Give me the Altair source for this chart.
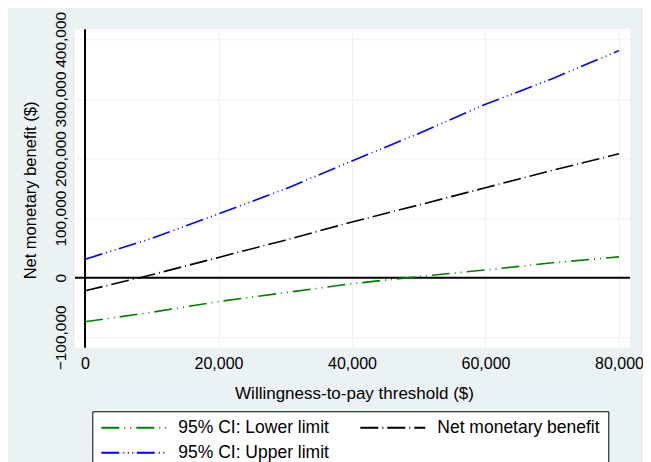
import altair as alt
import pandas as pd

# Willingness-to-pay threshold ($)
wtp = [0, 10000, 20000, 30000, 40000, 50000, 60000, 70000, 80000]
# Series values
lower = [-74000, -58000, -40000, -25000, -10000, 2000, 13000, 25000, 35000]
nmb = [-22000, 5000, 34000, 63000, 93500, 122000, 151000, 180000, 208000]
upper = [31000, 66000, 107000, 149000, 196000, 242000, 291000, 334000, 381000]

series_names = ["95% CI: Lower limit", "Net monetary benefit", "95% CI: Upper limit"]
series_colors = ["#008000", "#000000", "#0000FF"]
series_dashes = [[18, 5, 1, 5, 1, 5], [18, 4, 1, 4], [18, 4, 1, 3.5, 1, 3.5, 1, 3.5]]

x_ticks = [0, 20000, 40000, 60000, 80000]
y_ticks = [-100000, 0, 100000, 200000, 300000, 400000]

rows = []
for name, vals in zip(series_names, [lower, nmb, upper]):
    for xv, yv in zip(wtp, vals):
        rows.append({"wtp": xv, "value": yv, "series": name})
df = pd.DataFrame(rows)

FONT = "Liberation Sans"
XTITLE = "Willingness-to-pay threshold ($)"
YTITLE = "Net monetary benefit ($)"

xscale = alt.Scale(domain=[-1500, 81650], nice=False, zero=False)
yscale = alt.Scale(domain=[-117400, 416800], nice=False, zero=False)

xaxis = alt.Axis(
    values=x_ticks, format=",d", labelFontSize=16, labelFont=FONT, labelColor="black",
    labelPadding=21, labelBaseline="alphabetic", labelFlush=False, labelOverlap=False,
    ticks=False, tickSize=0, domain=False, grid=True, gridColor="#EAF2F3", gridWidth=1,
    titleFontSize=17, titleFont=FONT, titleColor="black", titleFontWeight="normal",
    titleX=279, titleY=50.6, titleBaseline="alphabetic", titleAlign="center",
)
yaxis = alt.Axis(
    values=y_ticks, format=",d", labelFontSize=15.5, labelFont=FONT, labelColor="black",
    labelAngle=270, labelAlign="center", labelBaseline="alphabetic", labelPadding=10,
    labelFlush=False, labelOverlap=False,
    ticks=False, tickSize=0, domain=False, grid=True, gridColor="#EAF2F3", gridWidth=1,
    titleFontSize=16.5, titleFont=FONT, titleColor="black", titleFontWeight="normal",
    titleAngle=270, titleX=-39.5, titleY=160.7, titleAlign="center", titleBaseline="alphabetic",
)

legend = alt.Legend(
    title=None, orient="none", legendX=17.3, legendY=382, columns=2, direction="horizontal",
    values=series_names,
    symbolType="stroke", symbolSize=4225, symbolStrokeWidth=2, clipHeight=17,
    labelFontSize=17.5, labelFont=FONT, labelColor="black", labelOffset=11, labelLimit=300,
    columnPadding=30, rowPadding=7, padding=8, strokeColor="black", fillColor="white",
)

lines = alt.Chart(df).mark_line(strokeWidth=1.6).encode(
    x=alt.X("wtp:Q", scale=xscale, axis=xaxis, title=XTITLE),
    y=alt.Y("value:Q", scale=yscale, axis=yaxis, title=YTITLE),
    color=alt.Color("series:N", scale=alt.Scale(domain=series_names, range=series_colors), legend=legend),
    strokeDash=alt.StrokeDash("series:N", scale=alt.Scale(domain=series_names, range=series_dashes), legend=legend),
    detail="series:N",
)

vrule = alt.Chart(pd.DataFrame({"wtp": [0]})).mark_rule(color="black", strokeWidth=2).encode(
    x=alt.X("wtp:Q", scale=xscale, title=XTITLE)
)
hrule = alt.Chart(pd.DataFrame({"value": [0]})).mark_rule(color="black", strokeWidth=2).encode(
    y=alt.Y("value:Q", scale=yscale, title=YTITLE)
)

chart = alt.layer(vrule, hrule, lines).properties(
    width=555, height=318.4, background="#EAF2F3",
    padding={"left": 67, "top": 21.3, "right": 13, "bottom": 122},
    autosize=alt.AutoSizeParams(type="none"),
).configure_view(fill="white", strokeWidth=0)

chart.save("out.html", embed_options={"renderer": "svg", "actions": False})
